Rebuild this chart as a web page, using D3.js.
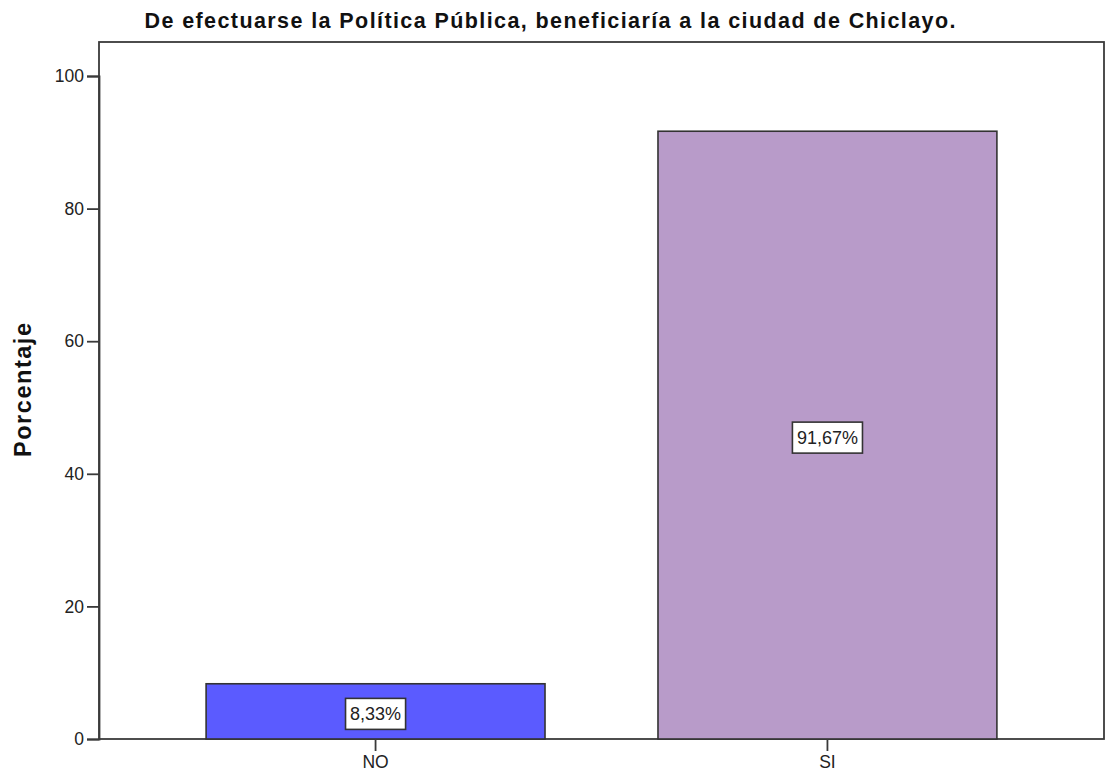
<!DOCTYPE html>
<html><head><meta charset="utf-8">
<script src="https://cdn.jsdelivr.net/npm/d3@7"></script>
<style>html,body{margin:0;padding:0;background:#fff;}svg{display:block;}</style>
</head><body>
<svg id="chart" width="1107" height="778"></svg>
<script>
const categories = ["NO", "SI"];
const values = [8.33, 91.67];
const valueLabels = ["8,33%", "91,67%"];
const yTicks = [0, 20, 40, 60, 80, 100];
const colors = ["#5b5bff", "#b89bc9"];
const title = "De efectuarse la Política Pública, beneficiaría a la ciudad de Chiclayo.";
const yTitle = "Porcentaje";

(function () {
const svg = d3.select("#chart");
const pL = 99, pR = 1104, pT = 42, pB = 739;
const font = "Liberation Sans, Arial, sans-serif";

const x = d3.scaleBand().domain(categories).range([pL, pR]).paddingInner(0.25).paddingOuter(0.237);
const y = d3.scaleLinear().domain([0, 100]).range([pB, 76]);

// frame
svg.append("rect").attr("x", pL).attr("y", pT).attr("width", pR - pL).attr("height", pB - pT)
  .attr("fill", "none").attr("stroke", "#3a3a3a").attr("stroke-width", 1.8);

// bars
svg.selectAll("rect.bar").data(values).enter().append("rect").attr("class", "bar")
  .attr("x", (d, i) => x(categories[i]))
  .attr("width", x.bandwidth())
  .attr("y", d => y(d))
  .attr("height", d => y(0) - y(d))
  .attr("fill", (d, i) => colors[i])
  .attr("stroke", "#333").attr("stroke-width", 1.6);

// y axis
const yAxis = d3.axisLeft(y).tickValues(yTicks).tickSize(12).tickPadding(3).tickFormat(d3.format("d"));
const gy = svg.append("g").attr("transform", `translate(${pL},0)`).call(yAxis);
gy.select(".domain").attr("stroke", "#3a3a3a").attr("stroke-width", 1.8);
gy.selectAll(".tick line").attr("stroke", "#3a3a3a").attr("stroke-width", 1.8);
gy.selectAll(".tick text").attr("font-family", font).attr("font-size", 17.5).attr("fill", "#222");

// x axis
const xAxis = d3.axisBottom(x).tickSize(12).tickPadding(5);
const gx = svg.append("g").attr("transform", `translate(0,${pB})`).call(xAxis);
gx.select(".domain").remove();
gx.selectAll(".tick line").attr("stroke", "#3a3a3a").attr("stroke-width", 1.8);
gx.selectAll(".tick text").attr("font-family", font).attr("font-size", 17.5).attr("fill", "#222");

// value labels
const lbl = svg.selectAll("g.vl").data(values).enter().append("g").attr("class", "vl")
  .attr("transform", (d, i) => `translate(${x(categories[i]) + x.bandwidth() / 2},${(y(d) + y(0)) / 2 + 2.5})`);
lbl.append("text").attr("text-anchor", "middle").attr("dy", "0.36em")
  .attr("font-family", font).attr("font-size", 18).attr("fill", "#222")
  .text((d, i) => valueLabels[i]);
lbl.each(function () {
  const g = d3.select(this);
  const bb = g.select("text").node().getBBox();
  g.insert("rect", "text").attr("x", bb.x - 4.5).attr("y", -15.5).attr("width", bb.width + 9).attr("height", 31)
    .attr("fill", "#fff").attr("stroke", "#333").attr("stroke-width", 1.6);
});

// title
svg.append("text").attr("x", 550).attr("y", 28).attr("text-anchor", "middle")
  .attr("font-family", font).attr("font-weight", "bold").attr("font-size", 21.5).attr("fill", "#111")
  .attr("textLength", 811).attr("lengthAdjust", "spacing").text(title);

// y title
svg.append("text").attr("transform", "translate(31,390) rotate(-90)").attr("text-anchor", "middle")
  .attr("font-family", font).attr("font-weight", "bold").attr("font-size", 23.5).attr("fill", "#111")
  .attr("textLength", 134).attr("lengthAdjust", "spacing").text(yTitle);
})();
</script>
</body></html>
